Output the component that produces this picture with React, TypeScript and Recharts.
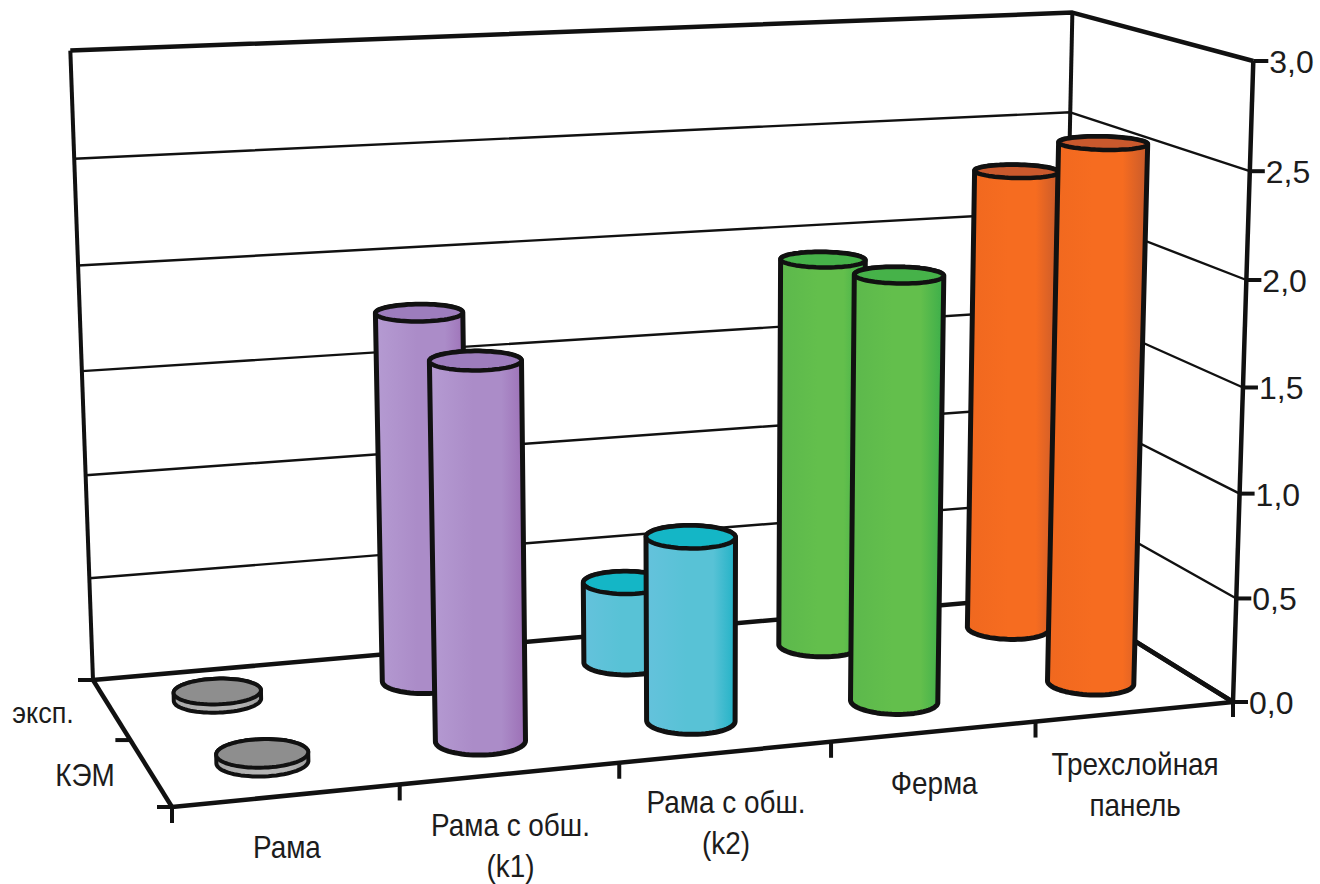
import React from 'react';
import { Bar, CartesianGrid, ComposedChart, Customized, XAxis, YAxis } from 'recharts';

// Values per structure type, one list per row of the depth axis
const categories = ['Рама', 'Рама с обш.\n(k1)', 'Рама с обш.\n(k2)', 'Ферма', 'Трехслойная\nпанель'];
const expValues = [0.04, 1.78, 0.4, 1.92, 2.3];
const femValues = [0.04, 1.75, 0.87, 2.02, 2.58];
const valueTicks = [0, 0.5, 1, 1.5, 2, 2.5, 3];
const seriesNames = ['эксп.', 'КЭМ'];

const data = categories.map((name, i) => ({ name, exp: expValues[i], fem: femValues[i] }));

// Body shading (left, middle, right), cap colour for each category
const palette = [
  { body: ['#a8a8a8', '#b4b4b4', '#9c9c9c'], cap: '#8e8e8e' },
  { body: ['#b59bd2', '#ab8cc8', '#9c6fb6'], cap: '#9d7dbd' },
  { body: ['#64c2dc', '#58c2d6', '#22b2c6'], cap: '#14b6c6' },
  { body: ['#5cb84c', '#63bf4c', '#3cae4a'], cap: '#46b249' },
  { body: ['#f0681f', '#f66c20', '#c75a2b'], cap: '#c9592d' },
];

// Chart box
const WIDTH = 1320;
const HEIGHT = 884;
const PLOT = { left: 172, right: 1233, top: 62, bottom: 702 };
const Y_MAX = 3;

type P = { x: number; y: number };

// Floor corners of the 3D scene: back-left first, then clockwise
const FLOOR: [P, P, P, P] = [
  { x: 93, y: 680 },
  { x: 1060, y: 594.7 },
  { x: 1233, y: 702 },
  { x: 172, y: 807 },
];
// Where the verticals of the scene converge, and where the value axis ends
const VANISH = { x: 700, y: 17530 };
const AXIS_TOP = { x: 1253, y: 61 };

// Pinhole camera matrix: the floor homography plus a vertical column aimed at the vanishing point
function makeCamera() {
  const [p0, p1, p2, p3] = FLOOR;
  const sx = p0.x - p1.x + p2.x - p3.x;
  const sy = p0.y - p1.y + p2.y - p3.y;
  const dx1 = p1.x - p2.x;
  const dx2 = p3.x - p2.x;
  const dy1 = p1.y - p2.y;
  const dy2 = p3.y - p2.y;
  const det = dx1 * dy2 - dx2 * dy1;
  const g = (sx * dy2 - dx2 * sy) / det;
  const h = (dx1 * sy - sx * dy1) / det;
  const a = p1.x - p0.x + g * p1.x;
  const b = p3.x - p0.x + h * p3.x;
  const d = p1.y - p0.y + g * p1.y;
  const e = p3.y - p0.y + h * p3.y;
  const n0 = g + h + 1;
  const s = ((AXIS_TOP.y - p2.y) * n0) / (VANISH.y - AXIS_TOP.y);
  return { a, b, d, e, g, h, s, c: p0.x, f: p0.y };
}
const cam = makeCamera();

// u: along the categories, v: depth (0 at the back wall), w: height as a fraction of the axis
function project(u: number, v: number, w: number): P {
  const n = cam.g * u + cam.h * v + 1 + cam.s * w;
  return {
    x: (cam.a * u + cam.b * v + cam.c + cam.s * w * VANISH.x) / n,
    y: (cam.d * u + cam.e * v + cam.f + cam.s * w * VANISH.y) / n,
  };
}

const pointsToPath = (pts: P[]) => pts.map((p, i) => `${i ? 'L' : 'M'}${p.x.toFixed(1)} ${p.y.toFixed(1)}`).join(' ');

const INK = '#111';
const TEXT = '#1c1c1c';
const FONT = '"Liberation Sans", Arial, sans-serif';
const ROW_DEPTH = { exp: 0.25, fem: 0.75 };
const RADIUS_U = 0.0405;
const RADIUS_V = 0.105;
const RING = 72;

// Cylinder whose foot sits on the floor plane and whose height comes from the bar's scaled size
function Cylinder(props: any) {
  const { x, width, height, index, rowKey } = props;
  const u = (x + width / 2 - PLOT.left) / (PLOT.right - PLOT.left);
  const v = ROW_DEPTH[rowKey as keyof typeof ROW_DEPTH];
  const w = height / (PLOT.bottom - PLOT.top);
  const ring = (level: number) => {
    const out: P[] = [];
    for (let i = 0; i < RING; i++) {
      const a = (i / RING) * Math.PI * 2;
      out.push(project(u + RADIUS_U * Math.cos(a), v + RADIUS_V * Math.sin(a), level));
    }
    return out;
  };
  const extremes = (pts: P[]) => {
    let lo = 0;
    let hi = 0;
    pts.forEach((p, i) => {
      if (p.x < pts[lo].x) lo = i;
      if (p.x > pts[hi].x) hi = i;
    });
    return [lo, hi];
  };
  const arc = (pts: P[], from: number, to: number) => {
    const out: P[] = [];
    for (let i = from; ; i = (i + 1) % pts.length) {
      out.push(pts[i]);
      if (i === to) break;
    }
    return out;
  };
  const foot = ring(0);
  const cap = ring(w);
  const [footL, footR] = extremes(foot);
  const [capL, capR] = extremes(cap);
  // Increasing ring angle runs right to left along the near side and left to right along the far side
  const near = arc(foot, footR, footL);
  const far = arc(cap, capL, capR);
  const colours = palette[index];
  const id = `cyl-${rowKey}-${index}`;
  const thin = index === 0;
  return (
    <g>
      <defs>
        <linearGradient id={id} x1="0" y1="0" x2="1" y2="0">
          <stop offset="0%" stopColor={colours.body[0]} />
          <stop offset="45%" stopColor={colours.body[1]} />
          <stop offset="75%" stopColor={colours.body[1]} />
          <stop offset="100%" stopColor={colours.body[2]} />
        </linearGradient>
      </defs>
      <path
        d={`${pointsToPath([...near, ...far])} Z`}
        fill={`url(#${id})`}
        stroke={INK}
        strokeWidth={thin ? 4 : 5}
        strokeLinejoin="round"
      />
      <path
        d={`${pointsToPath(cap)} Z`}
        fill={colours.cap}
        stroke={INK}
        strokeWidth={thin ? 4 : 4.5}
        strokeLinejoin="round"
      />
    </g>
  );
}

// Gridline folded along the back wall and the side wall
function WallLine(props: any) {
  const w = (PLOT.bottom - props.y1) / (PLOT.bottom - PLOT.top);
  const edge = w < 0.001 || w > 0.999;
  return (
    <path
      key={`wall-${props.index}`}
      d={pointsToPath([project(0, 0, w), project(1, 0, w), project(1, 1, w)])}
      fill="none"
      stroke={INK}
      strokeWidth={edge ? 4.5 : 2.4}
      strokeLinejoin="round"
    />
  );
}

// Box edges, tick stubs and the depth-axis names
function SceneFrame() {
  const line = (a: P, b: P, sw: number, key: string) => (
    <line key={key} x1={a.x} y1={a.y} x2={b.x} y2={b.y} stroke={INK} strokeWidth={sw} />
  );
  const stubs: React.ReactNode[] = [];
  categories.forEach((_, i) => {
    const p = project(i / categories.length, 1, 0);
    stubs.push(line(p, { x: p.x, y: p.y + 16 }, 4, `cat-${i}`));
  });
  const corner = project(1, 1, 0);
  stubs.push(line(corner, { x: corner.x, y: corner.y + 15 }, 4, 'cat-end'));
  [0, 0.5, 1].forEach((v) => {
    const p = project(0, v, 0);
    stubs.push(line(p, { x: p.x - 15, y: p.y }, 4, `depth-${v}`));
  });
  const depthLabels = [
    { x: 43, y: 723, size: 30 },
    { x: 85, y: 786, size: 31 },
  ];
  return (
    <g>
      {line(project(0, 0, 0), project(0, 0, 1), 4, 'left')}
      {line(project(1, 0, 0), project(1, 0, 1), 4, 'back')}
      {line(project(1, 1, 0), project(1, 1, 1), 4.5, 'axis')}
      {line(project(0, 0, 0), project(0, 1, 0), 4.5, 'floor-left')}
      {line(project(1, 0, 0), project(1, 1, 0), 4.5, 'floor-right')}
      {line(project(0, 1, 0), project(1, 1, 0), 4.5, 'floor-front')}
      {stubs}
      {seriesNames.map((name, i) => (
        <text
          key={name}
          transform={`translate(${depthLabels[i].x} ${depthLabels[i].y}) scale(0.9 1)`}
          textAnchor="middle"
          fontFamily={FONT}
          fontSize={depthLabels[i].size}
          fill={TEXT}
        >
          {name}
        </text>
      ))}
    </g>
  );
}

// Value labels sit beside the leaning axis
function ValueTick(props: any) {
  const value = props.payload.value as number;
  const p = project(1, 1, value / Y_MAX);
  return (
    <g>
      <line x1={p.x} y1={p.y} x2={p.x + 15} y2={p.y} stroke={INK} strokeWidth={4} />
      <text x={p.x + 16} y={p.y + 12} fontFamily={FONT} fontSize={32} fill={TEXT}>
        {value.toFixed(1).replace('.', ',')}
      </text>
    </g>
  );
}

// Category labels follow the slanted front edge of the floor
const LABEL_DROP = [62, 62, 61, 62, 63];
const LINE_STEP = 41;
function CategoryTick(props: any) {
  const u = (props.x - PLOT.left) / (PLOT.right - PLOT.left);
  const p = project(u, 1, 0);
  const index = props.index as number;
  const lines = String(props.payload.value).split('\n');
  return (
    <g>
      {lines.map((text, i) => (
        <text
          key={text}
          transform={`translate(${p.x} ${p.y + LABEL_DROP[index] + i * LINE_STEP}) scale(0.9 1)`}
          textAnchor="middle"
          fontFamily={FONT}
          fontSize={31}
          fill={TEXT}
        >
          {text}
        </text>
      ))}
    </g>
  );
}

export default function App() {
  return (
    <div style={{ position: 'absolute', left: 0, top: 0, width: WIDTH, height: HEIGHT, background: '#fff' }}>
      <ComposedChart
        width={WIDTH}
        height={HEIGHT}
        data={data}
        barSize={40}
        barGap={-40}
        margin={{ left: PLOT.left, right: 0, top: PLOT.top, bottom: HEIGHT - PLOT.bottom - 30 }}
      >
        <XAxis dataKey="name" height={30} axisLine={false} tickLine={false} interval={0} tick={CategoryTick} />
        <YAxis
          orientation="right"
          width={WIDTH - PLOT.right}
          domain={[0, Y_MAX]}
          ticks={valueTicks}
          axisLine={false}
          tickLine={false}
          tick={ValueTick}
        />
        <CartesianGrid vertical={false} horizontal={WallLine} />
        <Customized component={SceneFrame} />
        <Bar dataKey="exp" name={seriesNames[0]} isAnimationActive={false} shape={(p: any) => <Cylinder {...p} rowKey="exp" />} />
        <Bar dataKey="fem" name={seriesNames[1]} isAnimationActive={false} shape={(p: any) => <Cylinder {...p} rowKey="fem" />} />
      </ComposedChart>
    </div>
  );
}
